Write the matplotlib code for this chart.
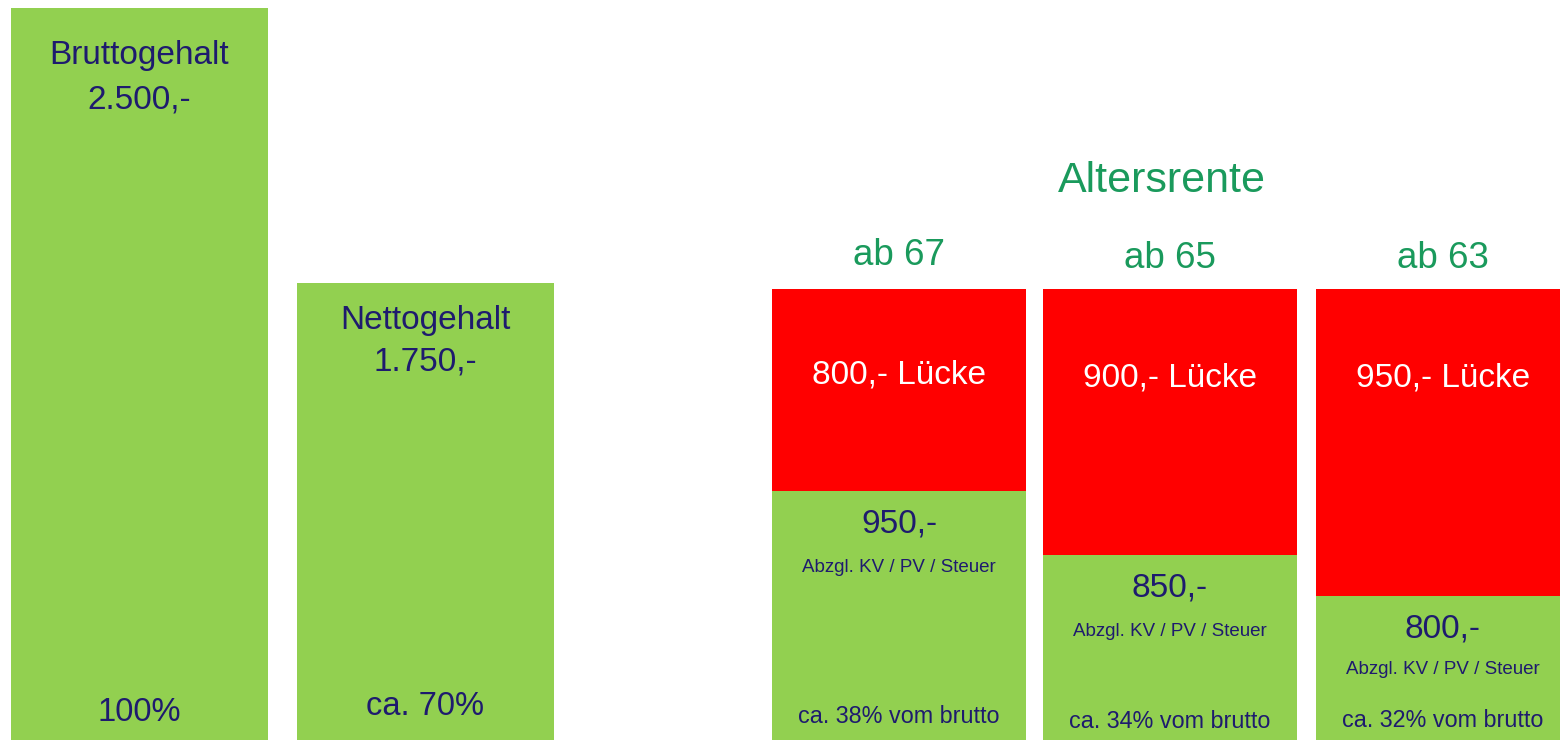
import numpy as np
import matplotlib.pyplot as plt

plt.rcParams['font.family'] = ['Liberation Sans', 'DejaVu Sans']

# Daten
kategorien = ['Bruttogehalt', 'Nettogehalt', 'ab 67', 'ab 65', 'ab 63']
titel_oben = ['Bruttogehalt', 'Nettogehalt']
betrag_oben = ['2.500,-', '1.750,-']
prozent_unten = ['100%', 'ca. 70%']

rente_titel = ['ab 67', 'ab 65', 'ab 63']
rente_betrag = ['950,-', '850,-', '800,-']
luecke_text = ['800,- Lücke', '900,- Lücke', '950,- Lücke']
rente_prozent = ['ca. 38% vom brutto', 'ca. 34% vom brutto', 'ca. 32% vom brutto']
abzug_text = 'Abzgl. KV / PV / Steuer'

# gezeichnete Balkenhöhen (wie im Bild, nicht maßstabsgetreu)
gehalt_hoehe = np.array([2500, 1561])
rente_gruen = np.array([850, 632, 492])
rente_gesamt = np.array([1540, 1540, 1540])
rente_rot = rente_gesamt - rente_gruen

# Layout
x_gehalt = [139, 425]
x_rente = [899, 1170, 1443]
breite = 254
gruen = '#92D050'
rot = '#FF0000'
blau = '#1E1B6E'
tuerkis = '#1A9A5C'

fig = plt.figure(figsize=(15.6, 7.4), dpi=100)
ax = fig.add_axes([0, 0, 1, 1])
ax.set_xlim(0, 1560)
ax.set_ylim(0, 2500 / 732 * 740)
ax.axis('off')

ax.bar(x_gehalt, gehalt_hoehe, width=breite + 3, color=gruen)
ax.bar(x_rente, rente_gruen, width=breite, color=gruen)
ax.bar(x_rente, rente_rot, width=breite, bottom=rente_gruen, color=rot)


def label(x, y, txt, dy, size, color=blau):
    ax.annotate(txt, xy=(x, y), xytext=(0, dy), textcoords='offset points',
                ha='center', va='center', fontsize=size, color=color)


# Gehalt
off1 = [-34, -27]
off2 = [-66, -57]
off_unten = [20, 24]
for i in range(2):
    label(x_gehalt[i], gehalt_hoehe[i], titel_oben[i], off1[i], 24)
    label(x_gehalt[i], gehalt_hoehe[i], betrag_oben[i], off2[i], 24)
    label(x_gehalt[i], 0, prozent_unten[i], off_unten[i], 23.5)

# Rente
off_ab = [24, 22, 22]
off_luecke = [-62, -64, -64]
off_abzug = [-55, -55, -53]
off_proz = [17, 13, 14]
for i in range(3):
    label(x_rente[i], rente_gesamt[i], rente_titel[i], off_ab[i], 26.5, tuerkis)
    label(x_rente[i], rente_gesamt[i], luecke_text[i], off_luecke[i], 24, 'white')
    label(x_rente[i], rente_gruen[i], rente_betrag[i], -24, 24)
    label(x_rente[i], rente_gruen[i], abzug_text, off_abzug[i], 13.5)
    label(x_rente[i], 0, rente_prozent[i], off_proz[i], 16.8)

ax.annotate('Altersrente', xy=(1162, rente_gesamt[1]), xytext=(0, 78),
            textcoords='offset points', ha='center', va='center',
            fontsize=31, color=tuerkis)

fig.savefig('out.png', dpi=100)
